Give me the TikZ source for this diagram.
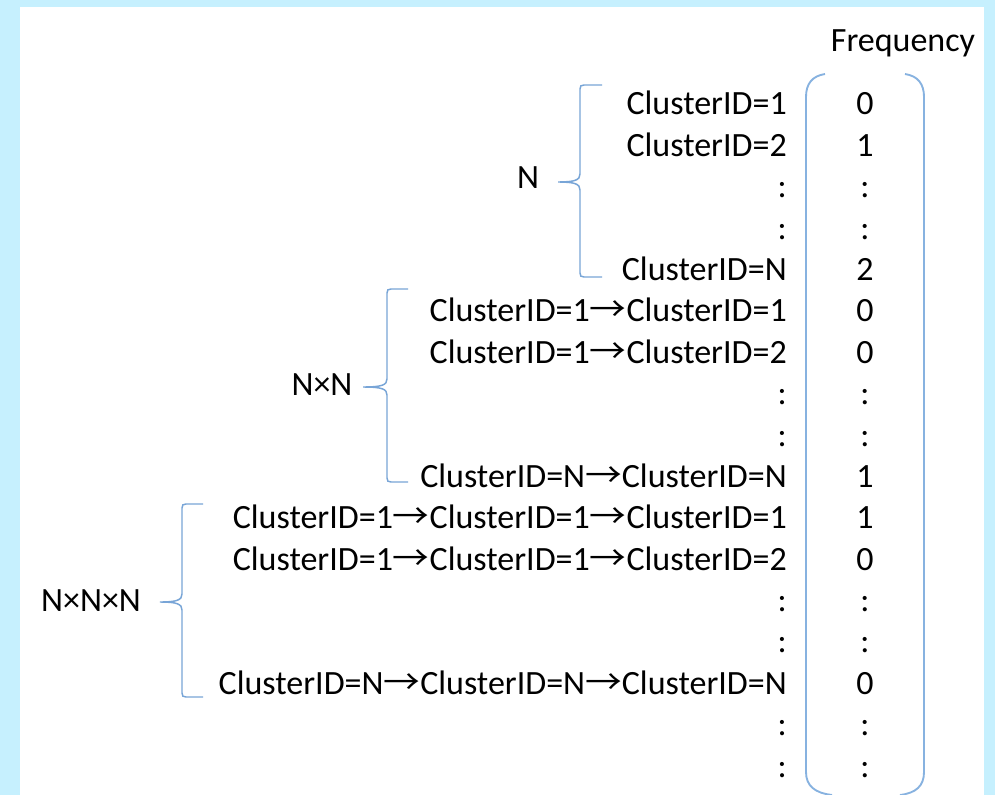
\documentclass[tikz,border=0pt]{standalone}
\usepackage{fontspec}
\setmainfont{Carlito}
\newfontfamily\arrfont{Noto Sans CJK SC}
\usepackage{graphicx}
\newcommand\rarr{\scalebox{1.08}[1]{\arrfont →}}
\definecolor{bgblue}{RGB}{198,240,254}
\definecolor{bracecol}{RGB}{120,165,215}
\definecolor{parencol}{RGB}{135,178,224}
\newcommand\drawbrace[6]{%
  \draw[bracestyle] (#6,#2) -- ({#1+4},#2) .. controls ({#1+1},#2) and (#1,{#2+1}) .. (#1,{#2+4})
    -- (#1,{#3-8}) .. controls (#1,{#3-2}) and ({#1-5},#3) .. (#5,#3)
    .. controls ({#1-5},#3) and (#1,{#3+2}) .. (#1,{#3+8})
    -- (#1,{#4-4}) .. controls (#1,{#4-1}) and ({#1+1},#4) .. ({#1+4},#4) -- (#6,#4);}
\begin{document}
\begin{tikzpicture}[x=0.75pt,y=-0.75pt,
  every node/.style={font=\fontsize{25.5}{30}\selectfont, inner sep=0pt, text=black},
  lab/.style={anchor=base east},
  val/.style={anchor=base},
  bracestyle/.style={draw=bracecol, line width=1.1pt},
  parenstyle/.style={draw=parencol, line width=1.4pt}]
\useasboundingbox (0,0) rectangle (995,795);
\fill[bgblue] (0,0) rectangle (995,795);
\fill[white] (20,7) rectangle (984,795);

\node[val] (freq) at (903,52) {Frequency};

% left labels
\foreach \i/\t in {0/ClusterID=1, 1/ClusterID=2, 2/:, 3/:, 4/ClusterID=N,
  5/ClusterID=1\rarr ClusterID=1, 6/ClusterID=1\rarr ClusterID=2, 7/:, 8/:,
  9/ClusterID=N\rarr ClusterID=N,
  10/ClusterID=1\rarr ClusterID=1\rarr ClusterID=1,
  11/ClusterID=1\rarr ClusterID=1\rarr ClusterID=2, 12/:, 13/:,
  14/ClusterID=N\rarr ClusterID=N\rarr ClusterID=N, 15/:, 16/:}{
  \node[lab] (l\i) at (787,{115+41.375*\i}) {\t};
}
% values
\foreach \i/\t in {0/0,1/1,2/:,3/:,4/2,5/0,6/0,7/:,8/:,9/1,10/1,11/0,12/:,13/:,14/0,15/:,16/:}{
  \node[val] (v\i) at (865,{115+41.375*\i}) {\t};
}

% group labels
\node[val] (gN) at (528,189) {N};
\node[val] (gNN) at (322,395) {N×N};
\node[val] (gNNN) at (91,611) {N×N×N};

% braces
\drawbrace{580}{85}{182}{277}{558}{602}
\drawbrace{387}{289}{387}{482}{363}{408}
\drawbrace{182}{504}{602}{697}{160}{203}

% big parentheses
\draw[parenstyle] (825,74) .. controls (812,76) and (806,84) .. (806,97) -- (806,772)
  .. controls (806,786) and (815,793) .. (832,795);
\draw[parenstyle] (905,74) .. controls (918,76) and (924,84) .. (924,97) -- (924,772)
  .. controls (924,786) and (916,793) .. (900,795);
\end{tikzpicture}
\end{document}
